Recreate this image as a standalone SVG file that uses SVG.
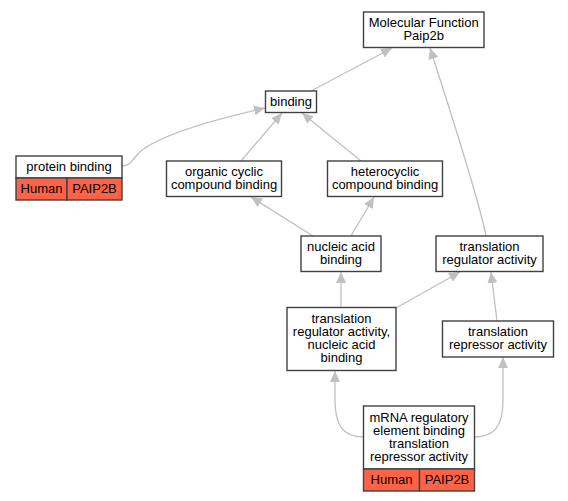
<svg xmlns="http://www.w3.org/2000/svg" width="568" height="501" viewBox="0 0 568 501">
<defs>
<style>
.box{fill:#ffffff;stroke:#404040;stroke-width:1.4}
.red{fill:#ff6347;stroke:#404040;stroke-width:1.4}
text{font-family:"Liberation Sans",Arial,sans-serif;font-size:13px;fill:#000;text-anchor:middle}
.edge{fill:none;stroke:#c0c0c0;stroke-width:1.3;marker-end:url(#ah)}
</style>
<marker id="ah" markerUnits="userSpaceOnUse" markerWidth="12" markerHeight="10" refX="11" refY="5" orient="auto" viewBox="0 0 12 10">
<path d="M0,0 L11,5 L0,10 Z" fill="#c0c0c0"/>
</marker>
</defs>
<rect width="568" height="501" fill="#ffffff"/>
<g id="edges">
<path class="edge" d="M311,91 L392,48"/>
<path class="edge" d="M122,166 C132,166 134,156 142,150 C165,133 225,117 265,108"/>
<path class="edge" d="M241,161 L282,113"/>
<path class="edge" d="M361,161 L302,113"/>
<path class="edge" d="M486,236 C478,195 445,95 430,48"/>
<path class="edge" d="M313,236 L251,197"/>
<path class="edge" d="M351,236 L374,197"/>
<path class="edge" d="M341,307 L341,272"/>
<path class="edge" d="M396,308 L460,272"/>
<path class="edge" d="M497,321 L491,272"/>
<path class="edge" d="M363,437 C343,437 335,425 335,400 L335,371"/>
<path class="edge" d="M475,437 C495,437 503,425 503,400 L503,357"/>
</g>
<g id="n_mf">
<rect class="box" x="363.5" y="12" width="120.5" height="35.5"/>
<text x="423.7" y="27">Molecular Function</text>
<text x="423.7" y="40">Paip2b</text>
</g>
<g id="n_binding">
<rect class="box" x="265.5" y="91" width="51" height="21.5"/>
<text x="291" y="106">binding</text>
</g>
<g id="n_protein">
<rect class="box" x="16" y="156" width="106" height="22"/>
<text x="69" y="171">protein binding</text>
<rect class="red" x="16" y="178" width="51" height="22"/>
<rect class="red" x="67" y="178" width="55" height="22"/>
<text x="41.5" y="193">Human</text>
<text x="94.5" y="193">PAIP2B</text>
</g>
<g id="n_organic">
<rect class="box" x="166.5" y="161" width="115" height="35.5"/>
<text x="224" y="175.5">organic cyclic</text>
<text x="224" y="188.5">compound binding</text>
</g>
<g id="n_hetero">
<rect class="box" x="327.5" y="161" width="115" height="35.5"/>
<text x="385" y="175.5">heterocyclic</text>
<text x="385" y="188.5">compound binding</text>
</g>
<g id="n_nab">
<rect class="box" x="301" y="236" width="80" height="35.5"/>
<text x="341" y="250.5">nucleic acid</text>
<text x="341" y="263.5">binding</text>
</g>
<g id="n_tra">
<rect class="box" x="436" y="236" width="107" height="35.5"/>
<text x="489.5" y="250.5">translation</text>
<text x="489.5" y="263.5">regulator activity</text>
</g>
<g id="n_tranab">
<rect class="box" x="287" y="307.5" width="109" height="63"/>
<text x="341.5" y="323">translation</text>
<text x="341.5" y="336">regulator activity,</text>
<text x="341.5" y="349">nucleic acid</text>
<text x="341.5" y="362">binding</text>
</g>
<g id="n_repr">
<rect class="box" x="442.5" y="321" width="111" height="36"/>
<text x="498" y="335.5">translation</text>
<text x="498" y="348.5">repressor activity</text>
</g>
<g id="n_mrna">
<rect class="box" x="363.5" y="406" width="111" height="63"/>
<text x="419" y="421.5">mRNA regulatory</text>
<text x="419" y="434.5">element binding</text>
<text x="419" y="447.5">translation</text>
<text x="419" y="460.5">repressor activity</text>
<rect class="red" x="363.5" y="469" width="56" height="22"/>
<rect class="red" x="419.5" y="469" width="55" height="22"/>
<text x="391.5" y="484">Human</text>
<text x="447" y="484">PAIP2B</text>
</g>
</svg>
